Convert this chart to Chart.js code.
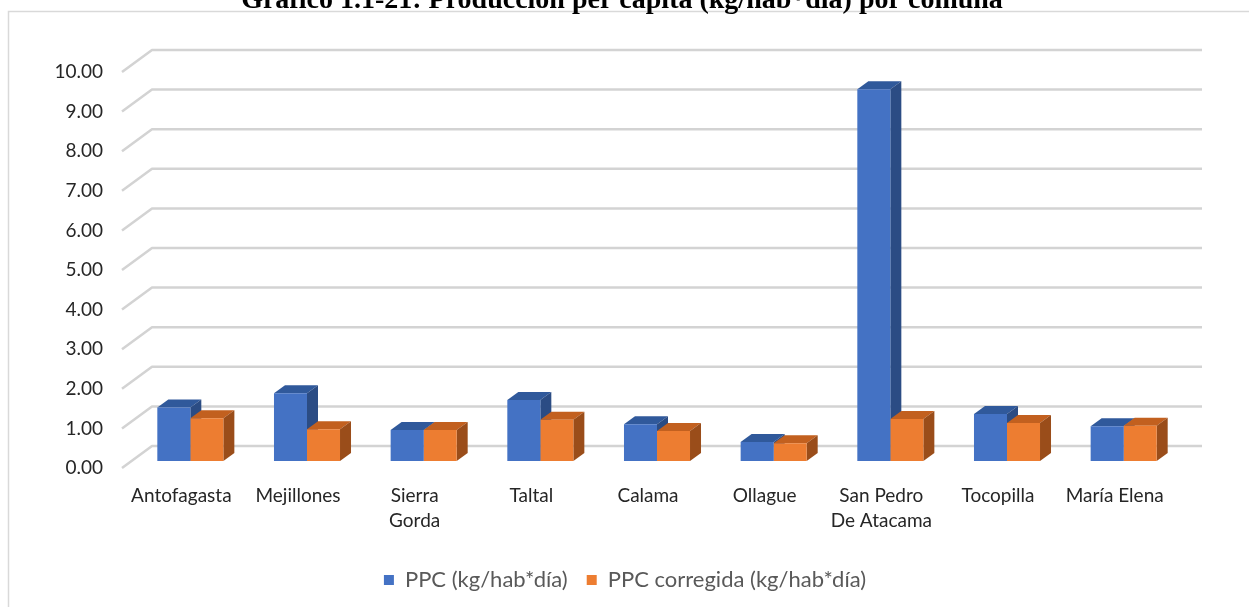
<!DOCTYPE html>
<html lang="es">
<head>
<meta charset="utf-8">
<title>PPC por comuna</title>
<script src="https://cdn.jsdelivr.net/npm/chart.js@4.4.1/dist/chart.umd.min.js"></script>
<style>
  html, body { margin: 0; padding: 0; background: #fff; }
  canvas { display: block; }
</style>
</head>
<body>
<canvas id="ppcChart" width="1249" height="607"></canvas>
<script>
// DATOS
const comunas = ["Antofagasta", "Mejillones", ["Sierra", "Gorda"], "Taltal", "Calama", "Ollague", ["San Pedro", "De Atacama"], "Tocopilla", "María Elena"];
const ppc = [1.35, 1.71, 0.78, 1.54, 0.93, 0.48, 9.39, 1.19, 0.88];
const ppcCorregida = [1.08, 0.80, 0.78, 1.04, 0.76, 0.45, 1.06, 0.96, 0.89];
const yTicks = [0, 1, 2, 3, 4, 5, 6, 7, 8, 9, 10];

const titulo = "Gráfico 1.1-21: Producción per cápita (kg/hab*día) por comuna";

// colores: frente, tapa, lado
const azul = ["#4472c4", "#30599b", "#2b4c84"];
const naranja = ["#ed7d31", "#c2601f", "#9a4d1a"];

// profundidad de la barra y del piso (px)
const BAR_DX = 11, BAR_DY = -8;
const FRONT_DX = -10, FRONT_DY = 7;
const BACK_DX = 20, BACK_DY = -15;
const LEYENDA_DX = 34;

// FONDO, MARCO Y TITULO
const marco = {
    id: "marco",
    afterLayout(chart) {
        // la leyenda de Excel va centrada en el marco, no en el area
        chart.legend.left += LEYENDA_DX;
        chart.legend.right += LEYENDA_DX;
    },
    beforeDraw(chart) {
        const ctx = chart.ctx;
        ctx.save();
        ctx.fillStyle = "#fff";
        ctx.fillRect(0, 0, chart.width, chart.height);
        ctx.strokeStyle = "#d9d9d9";
        ctx.lineWidth = 1.5;
        ctx.beginPath();
        ctx.moveTo(8.5, chart.height);
        ctx.lineTo(8.5, 11.5);
        ctx.lineTo(chart.width, 11.5);
        ctx.stroke();
        ctx.restore();
    },
    afterDraw(chart) {
        const ctx = chart.ctx;
        ctx.save();
        ctx.fillStyle = "#000";
        ctx.font = "bold 28px 'Liberation Serif', serif";
        ctx.textAlign = "center";
        ctx.textBaseline = "alphabetic";
        ctx.fillText(titulo, 622, 8);
        ctx.restore();
    }
};

// EFECTO 3D: rejilla oblicua, tapas y lados
const efecto3d = {
    id: "efecto3d",
    beforeDatasetsDraw(chart) {
        const ctx = chart.ctx;
        const area = chart.chartArea;
        const y = chart.scales.y;

        ctx.save();
        ctx.strokeStyle = "#d3d3d3";
        ctx.lineWidth = 2.5;
        ctx.lineJoin = "round";
        yTicks.forEach(v => {
            const py = y.getPixelForValue(v);
            ctx.beginPath();
            ctx.moveTo(area.left + FRONT_DX, py + FRONT_DY);
            ctx.lineTo(area.left + BACK_DX, py + BACK_DY);
            ctx.lineTo(area.right + BACK_DX, py + BACK_DY);
            ctx.stroke();
        });

        chart.data.datasets.forEach((ds, i) => {
            const cols = i === 0 ? azul : naranja;
            chart.getDatasetMeta(i).data.forEach(bar => {
                const l = bar.x - bar.width / 2;
                const r = bar.x + bar.width / 2;
                const t = bar.y;
                const b = bar.base;

                // tapa
                ctx.fillStyle = cols[1];
                ctx.beginPath();
                ctx.moveTo(l, t);
                ctx.lineTo(l + BAR_DX, t + BAR_DY);
                ctx.lineTo(r + BAR_DX, t + BAR_DY);
                ctx.lineTo(r, t);
                ctx.closePath();
                ctx.fill();

                // lado
                ctx.fillStyle = cols[2];
                ctx.beginPath();
                ctx.moveTo(r, t);
                ctx.lineTo(r + BAR_DX, t + BAR_DY);
                ctx.lineTo(r + BAR_DX, b + BAR_DY);
                ctx.lineTo(r, b);
                ctx.closePath();
                ctx.fill();
            });
        });
        ctx.restore();
    }
};

const fuente = "Lato, 'Liberation Sans', sans-serif";

new Chart(document.getElementById("ppcChart"), {
    type: "bar",
    data: {
        labels: comunas,
        datasets: [
            {
                label: "PPC (kg/hab*día)",
                data: ppc,
                backgroundColor: azul[0]
            },
            {
                label: "PPC corregida (kg/hab*día)",
                data: ppcCorregida,
                backgroundColor: naranja[0]
            }
        ]
    },
    options: {
        responsive: false,
        animation: false,
        devicePixelRatio: 1,
        layout: {
            padding: { left: 0, right: 67, top: 65, bottom: 6 }
        },
        datasets: {
            bar: {
                barPercentage: 1,
                categoryPercentage: 0.566,
                borderWidth: 0
            }
        },
        scales: {
            x: {
                grid: { display: false, drawTicks: false },
                border: { display: false },
                ticks: {
                    autoSkip: false,
                    maxRotation: 0,
                    minRotation: 0,
                    padding: 23,
                    labelOffset: -9,
                    color: "#262626",
                    font: { family: fuente, size: 19, lineHeight: 1.3 }
                },
                afterFit(scale) {
                    scale.height = 89;
                }
            },
            y: {
                min: 0,
                max: 10,
                grid: { display: false, drawTicks: false },
                border: { display: false },
                ticks: {
                    stepSize: 1,
                    padding: 29,
                    labelOffset: 7,
                    color: "#262626",
                    font: { family: fuente, size: 19 },
                    callback: v => v.toFixed(2)
                },
                afterFit(scale) {
                    scale.width = 132;
                }
            }
        },
        plugins: {
            legend: {
                position: "bottom",
                labels: {
                    boxWidth: 10,
                    boxHeight: 10,
                    padding: 19,
                    color: "#595959",
                    font: { family: fuente, size: 22 }
                }
            },
            tooltip: { enabled: false }
        }
    },
    plugins: [marco, efecto3d]
});
</script>
</body>
</html>
